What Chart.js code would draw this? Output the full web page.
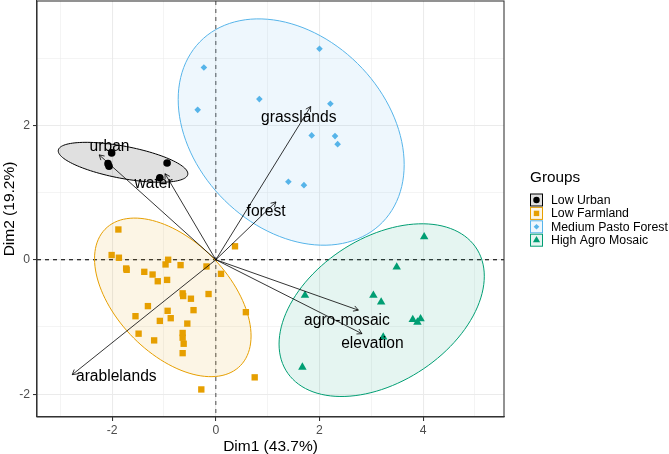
<!DOCTYPE html>
<html lang="en">
<head>
<meta charset="UTF-8">
<title>PCA biplot</title>
<script src="https://cdn.jsdelivr.net/npm/chart.js"></script>
<style>
    body { margin: 0; background: #fff; }
    #wrap { width: 669px; height: 454px; }
</style>
</head>
<body>
<div id="wrap"><canvas id="chart" width="669" height="454"></canvas></div>
<script>
// groups
const groupNames = ['Low Urban', 'Low Farmland', 'Medium Pasto Forest', 'High Agro Mosaic'];
const groupColors = ['#000000', '#E69F00', '#56B4E9', '#009E73'];
const groupShapes = ['circle', 'rect', 'rectRot', 'triangle'];

// individuals (Dim1, Dim2)
const urbanX = [-2.01, -2.08, -2.06, -0.94, -1.08];
const urbanY = [1.59, 1.43, 1.39, 1.44, 1.22];

const farmX = [-1.88, -2.01, -1.87, -0.92, -0.97, -1.73, -1.72, -0.68, -0.18, 0.37, 0.10, -1.38,
    -1.22, -1.12, -0.94, -0.64, -0.63, -0.48, -0.14, -1.31, -0.43, -0.93, -0.87, -1.55, -1.08,
    -0.55, 0.58, -1.49, -1.19, -0.64, -0.64, -0.62, -0.64, 0.75, -0.28];
const farmY = [0.45, 0.07, 0.03, 0.00, -0.07, -0.13, -0.15, -0.08, -0.10, 0.20, -0.21, -0.18,
    -0.22, -0.32, -0.30, -0.50, -0.54, -0.58, -0.51, -0.69, -0.75, -0.76, -0.87, -0.84, -0.91,
    -0.95, -0.78, -1.10, -1.20, -1.09, -1.16, -1.25, -1.39, -1.75, -1.93];

const pastoX = [2.00, -0.23, 0.84, -0.35, 2.21, 1.85, 2.30, 2.35, 1.40, 1.70];
const pastoY = [3.14, 2.86, 2.39, 2.23, 2.32, 1.85, 1.84, 1.72, 1.16, 1.11];

const agroX = [4.02, 3.49, 1.72, 3.04, 3.19, 3.80, 3.95, 3.89, 3.23, 1.67];
const agroY = [0.34, -0.11, -0.53, -0.53, -0.63, -0.89, -0.88, -0.93, -1.15, -1.60];

// concentration ellipses: centre, half width, y offset of rightmost point, half height
const ellCx = [-1.79, -0.83, 1.454, 3.20];
const ellCy = [1.45, -0.56, 1.90, -0.75];
const ellW = [1.25, 1.51, 2.18, 1.98];
const ellUy = [-0.17, -0.575, -0.486, 0.505];
const ellH = [0.297, 1.18, 1.684, 1.285];

// variables
const varNames = ['urban', 'water', 'grasslands', 'forest', 'arablelands', 'agro-mosaic', 'elevation'];
const varX = [-2.25, -0.98, 1.83, 1.16, -2.77, 2.75, 2.82];
const varY = [1.56, 1.28, 2.28, 0.86, -1.71, -0.75, -1.10];
const varLabelX = [-2.05, -1.20, 1.60, 0.97, -1.92, 2.53, 3.02];
const varLabelY = [1.68, 1.13, 2.12, 0.71, -1.74, -0.91, -1.25];

// axes
const xMajor = [-2, 0, 2, 4];
const xMinor = [-3, -1, 1, 3, 5];
const yMajor = [-2, 0, 2];
const yMinor = [-1, 1, 3];

const FONT = "'Liberation Sans', Arial, sans-serif";

function hexA(hex, a) {
    const n = parseInt(hex.slice(1), 16);
    return `rgba(${(n >> 16) & 255}, ${(n >> 8) & 255}, ${n & 255}, ${a})`;
}

const groupX = [urbanX, farmX, pastoX, agroX];
const groupY = [urbanY, farmY, pastoY, agroY];
const pointSizes = [3.8, 4.5, 3.3, 4.9];

const datasets = groupNames.map((name, i) => ({
    label: name,
    data: groupX[i].map((x, j) => ({ x: x, y: groupY[i][j] })),
    pointStyle: groupShapes[i],
    pointRadius: pointSizes[i],
    pointHoverRadius: pointSizes[i],
    pointBackgroundColor: groupColors[i],
    pointBorderColor: groupColors[i],
    pointBorderWidth: 0
}));

function isMajor(list, v) {
    return list.some(m => Math.abs(m - v) < 1e-9);
}

const biplotPlugin = {
    id: 'biplot',
    beforeDatasetsDraw(chart) {
        const ctx = chart.ctx;
        const xs = chart.scales.x, ys = chart.scales.y;
        const a = chart.chartArea;
        ctx.save();
        ctx.beginPath();
        ctx.rect(a.left, a.top, a.right - a.left, a.bottom - a.top);
        ctx.clip();

        // reference lines
        ctx.setLineDash([4, 4]);
        ctx.lineWidth = 1.07;
        ctx.strokeStyle = '#000';
        ctx.beginPath();
        ctx.moveTo(a.left, ys.getPixelForValue(0));
        ctx.lineTo(a.right, ys.getPixelForValue(0));
        ctx.stroke();
        ctx.strokeStyle = '#555';
        ctx.beginPath();
        ctx.moveTo(xs.getPixelForValue(0), a.top);
        ctx.lineTo(xs.getPixelForValue(0), a.bottom);
        ctx.stroke();
        ctx.setLineDash([]);

        // ellipses
        for (let i = 0; i < ellCx.length; i++) {
            const vy = Math.sqrt(Math.max(ellH[i] * ellH[i] - ellUy[i] * ellUy[i], 0));
            ctx.beginPath();
            for (let k = 0; k <= 120; k++) {
                const t = k / 120 * Math.PI * 2;
                const dx = ellCx[i] + ellW[i] * Math.cos(t);
                const dy = ellCy[i] + ellUy[i] * Math.cos(t) + vy * Math.sin(t);
                const px = xs.getPixelForValue(dx), py = ys.getPixelForValue(dy);
                if (k === 0) ctx.moveTo(px, py); else ctx.lineTo(px, py);
            }
            ctx.closePath();
            ctx.fillStyle = hexA(groupColors[i], i === 0 ? 0.12 : 0.1);
            ctx.fill();
            ctx.lineWidth = 1;
            ctx.strokeStyle = groupColors[i];
            ctx.stroke();
        }
        ctx.restore();
    },
    afterDatasetsDraw(chart) {
        const ctx = chart.ctx;
        const xs = chart.scales.x, ys = chart.scales.y;
        const ox = xs.getPixelForValue(0), oy = ys.getPixelForValue(0);
        ctx.save();
        ctx.strokeStyle = '#000';
        ctx.lineWidth = 0.8;
        for (let i = 0; i < varNames.length; i++) {
            const ex = xs.getPixelForValue(varX[i]), ey = ys.getPixelForValue(varY[i]);
            ctx.beginPath();
            ctx.moveTo(ox, oy);
            ctx.lineTo(ex, ey);
            const ang = Math.atan2(ey - oy, ex - ox);
            const hl = 5.5;
            ctx.moveTo(ex - hl * Math.cos(ang - Math.PI / 6), ey - hl * Math.sin(ang - Math.PI / 6));
            ctx.lineTo(ex, ey);
            ctx.lineTo(ex - hl * Math.cos(ang + Math.PI / 6), ey - hl * Math.sin(ang + Math.PI / 6));
            ctx.stroke();
        }
        ctx.fillStyle = '#000';
        ctx.font = '15.6px ' + FONT;
        ctx.textAlign = 'center';
        ctx.textBaseline = 'middle';
        for (let i = 0; i < varNames.length; i++) {
            ctx.fillText(varNames[i], xs.getPixelForValue(varLabelX[i]), ys.getPixelForValue(varLabelY[i]));
        }
        ctx.restore();
    },
    afterDraw(chart) {
        const ctx = chart.ctx;
        const a = chart.chartArea;
        ctx.save();
        // panel border
        ctx.strokeStyle = '#333';
        ctx.lineWidth = 1.07;
        ctx.strokeRect(a.left, a.top, a.right - a.left, a.bottom - a.top);

        // legend
        const lx = 530, ly = 178;
        ctx.fillStyle = '#000';
        ctx.font = '15.3px ' + FONT;
        ctx.textAlign = 'left';
        ctx.textBaseline = 'middle';
        ctx.fillText('Groups', lx, ly);
        ctx.font = '12.3px ' + FONT;
        for (let i = 0; i < groupNames.length; i++) {
            const cy = 200 + i * 13.4;
            ctx.fillStyle = '#fff';
            ctx.fillRect(lx + 0.5, cy - 6, 12, 12);
            ctx.fillStyle = hexA(groupColors[i], i === 0 ? 0.12 : 0.1);
            ctx.fillRect(lx + 0.5, cy - 6, 12, 12);
            ctx.strokeStyle = groupColors[i];
            ctx.lineWidth = 1;
            ctx.strokeRect(lx + 0.5, cy - 6, 12, 12);
            ctx.fillStyle = groupColors[i];
            ctx.strokeStyle = groupColors[i];
            Chart.helpers.drawPoint(ctx, {
                pointStyle: groupShapes[i], radius: pointSizes[i] * 0.85, borderWidth: 0
            }, lx + 6.5, cy);
            ctx.fillStyle = '#000';
            ctx.fillText(groupNames[i], lx + 21, cy + 0.5);
        }
        ctx.restore();
    }
};

new Chart(document.getElementById('chart'), {
    type: 'scatter',
    data: { datasets: datasets },
    plugins: [biplotPlugin],
    options: {
        responsive: false,
        animation: false,
        layout: { autoPadding: false, padding: { top: 1, right: 165, left: 0, bottom: 0 } },
        plugins: { legend: { display: false }, tooltip: { enabled: false } },
        scales: {
            x: {
                type: 'linear',
                min: -3.45,
                max: 5.56,
                afterBuildTicks: s => { s.ticks = xMajor.concat(xMinor).sort((p, q) => p - q).map(v => ({ value: v })); },
                afterFit: s => { s.height = 37; s.paddingLeft = 0; s.paddingRight = 0; },
                grid: {
                    color: '#EBEBEB',
                    lineWidth: c => isMajor(xMajor, c.tick.value) ? 1.07 : 0.53,
                    tickColor: c => isMajor(xMajor, c.tick.value) ? '#333333' : 'rgba(0,0,0,0)',
                    tickLength: 4,
                    tickWidth: 1.07
                },
                border: { display: true, color: '#333', width: 1.07 },
                ticks: {
                    color: '#4D4D4D',
                    font: { family: FONT, size: 12.2 },
                    padding: 2,
                    maxRotation: 0,
                    autoSkip: false,
                    callback: v => isMajor(xMajor, v) ? String(v) : ''
                },
                title: {
                    display: true,
                    text: 'Dim1 (43.7%)',
                    color: '#000',
                    font: { family: FONT, size: 15.5, lineHeight: 1 },
                    padding: { top: 0, bottom: 0 }
                }
            },
            y: {
                type: 'linear',
                min: -2.34,
                max: 3.85,
                afterBuildTicks: s => { s.ticks = yMajor.concat(yMinor).sort((p, q) => p - q).map(v => ({ value: v })); },
                afterFit: s => { s.width = 37; s.paddingTop = 0; s.paddingBottom = 0; },
                grid: {
                    color: '#EBEBEB',
                    lineWidth: c => isMajor(yMajor, c.tick.value) ? 1.07 : 0.53,
                    tickColor: c => isMajor(yMajor, c.tick.value) ? '#333333' : 'rgba(0,0,0,0)',
                    tickLength: 4,
                    tickWidth: 1.07
                },
                border: { display: true, color: '#333', width: 1.07 },
                ticks: {
                    color: '#4D4D4D',
                    font: { family: FONT, size: 12.2 },
                    padding: 3,
                    autoSkip: false,
                    callback: v => isMajor(yMajor, v) ? String(v) : ''
                },
                title: {
                    display: true,
                    text: 'Dim2 (19.2%)',
                    color: '#000',
                    font: { family: FONT, size: 15.5, lineHeight: 1 },
                    padding: { top: 2, bottom: 0 }
                }
            }
        }
    }
});
</script>
</body>
</html>
